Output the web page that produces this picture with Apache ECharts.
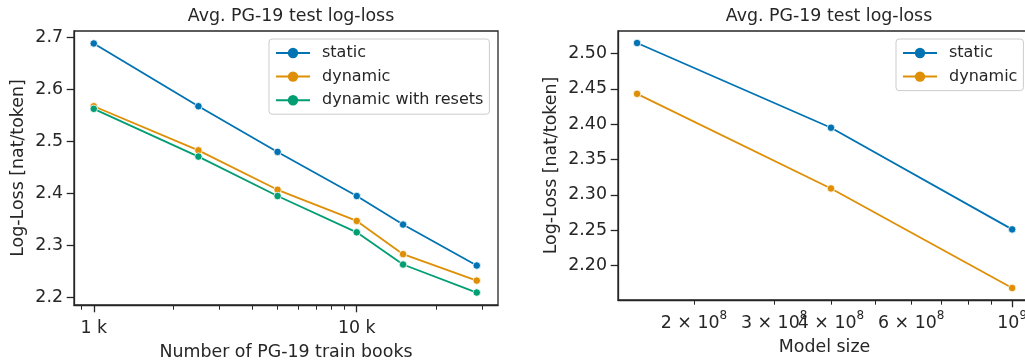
<!DOCTYPE html>
<html>
<head>
<meta charset="utf-8">
<script src="https://cdn.jsdelivr.net/npm/echarts@6/dist/echarts.min.js"></script>
<style>
html,body{margin:0;padding:0;background:#fff;}
#chart{width:1025px;height:360px;}
</style>
</head>
<body>
<div id="chart"></div>
<script>
// ---------- data ----------
const booksX = [1000, 2500, 5000, 10000, 15000, 28602];
const booksStatic = [2.689, 2.568, 2.480, 2.395, 2.340, 2.261];
const booksDynamic = [2.568, 2.483, 2.407, 2.347, 2.283, 2.232];
const booksResets = [2.563, 2.471, 2.395, 2.325, 2.263, 2.209];

const sizeX = [1.5e8, 4e8, 1e9];
const sizeStatic = [2.515, 2.395, 2.251];
const sizeDynamic = [2.443, 2.309, 2.168];

const leftYTicks = [2.2, 2.3, 2.4, 2.5, 2.6, 2.7];
const leftXMajor = [1000, 10000];
const leftXMinor = [900, 2000, 3000, 4000, 5000, 6000, 7000, 8000, 9000, 20000, 30000];
const rightYTicks = [2.20, 2.25, 2.30, 2.35, 2.40, 2.45, 2.50];
const rightXLabels = [2e8, 3e8, 4e8, 6e8, 1e9];
const rightXMajor = [1e9];
const rightXMinor = [2e8, 3e8, 4e8, 5e8, 6e8, 7e8, 8e8, 9e8];

const seriesNamesLeft = ['static', 'dynamic', 'dynamic with resets'];
const seriesNamesRight = ['static', 'dynamic'];
const colors = ['#0173b2', '#de8f05', '#029e73'];
const titleText = 'Avg. PG-19 test log-loss';

// ---------- styling ----------
const FONT = 'DejaVu Sans';
const TC = '#262626';
const FS = 17.4;

function zip(xs, ys) { return xs.map((x, i) => [x, ys[i]]); }

function lineSeries(name, xs, ys, color, xi, yi) {
  return {
    name: name, type: 'line', xAxisIndex: xi, yAxisIndex: yi,
    data: zip(xs, ys),
    symbol: 'circle', symbolSize: 7.5,
    lineStyle: { color: color, width: 1.8 },
    itemStyle: { color: color, borderColor: '#ffffff', borderWidth: 0.8 },
    emphasis: { disabled: true },
    animation: false, z: 3
  };
}

const axisLine = { show: true, lineStyle: { color: TC, width: 1.3 } };

function legendCfg(names, left) {
  return { data: names, orient: 'vertical', left: left, top: 39,
    backgroundColor: '#ffffff', borderColor: '#cccccc', borderWidth: 1, borderRadius: 3,
    padding: [6, 6, 6, 6], itemWidth: 34, itemHeight: 13, itemGap: 7.6,
    itemStyle: { borderWidth: 0 },
    textStyle: { fontFamily: FONT, fontSize: 16, color: TC, lineHeight: 16, padding: [0, 0, 0, 7] },
    selectedMode: false };
}

const option = {
  animation: false,
  textStyle: { fontFamily: FONT, color: TC },
  title: [
    { text: titleText, left: 286, top: 3, textAlign: 'center',
      textStyle: { fontFamily: FONT, fontWeight: 'normal', fontSize: FS, color: TC } },
    { text: titleText, left: 824, top: 3, textAlign: 'center',
      textStyle: { fontFamily: FONT, fontWeight: 'normal', fontSize: FS, color: TC } }
  ],
  grid: [
    { left: 74, right: 527, top: 31, bottom: 55, outerBoundsMode: 'none', containLabel: false,
      show: true, borderColor: TC, borderWidth: 1.3, backgroundColor: 'transparent' },
    { left: 618, right: -6, top: 31, bottom: 60, outerBoundsMode: 'none', containLabel: false,
      show: true, borderColor: TC, borderWidth: 1.3, backgroundColor: 'transparent' }
  ],
  legend: [ legendCfg(seriesNamesLeft, 269), legendCfg(seriesNamesRight, 896) ],
  xAxis: [
    { gridIndex: 0, type: 'log', min: 841, max: 34450, position: 'bottom',
      axisLine: axisLine,
      axisTick: { show: true, customValues: leftXMajor, length: 7.3, lineStyle: { color: TC, width: 1.3 } },
      axisLabel: { show: true, customValues: leftXMajor, margin: 15, fontSize: FS, color: TC, fontFamily: FONT,
        formatter: v => (v / 1000) + ' k' },
      splitLine: { show: false }, minorTick: { show: false },
      name: 'Number of PG-19 train books', nameLocation: 'middle', nameGap: 39,
      nameTextStyle: { fontSize: FS, color: TC, fontFamily: FONT } },
    { gridIndex: 0, type: 'log', min: 841, max: 34450, position: 'bottom',
      axisLine: { show: false },
      axisTick: { show: true, customValues: leftXMinor, length: 4.7, lineStyle: { color: TC, width: 1 } },
      axisLabel: { show: false }, splitLine: { show: false } },
    { gridIndex: 1, type: 'log', min: 1.362e8, max: 1.1e9, position: 'bottom',
      axisLine: axisLine,
      axisTick: { show: true, customValues: rightXMajor, length: 7.3, lineStyle: { color: TC, width: 1.3 } },
      axisLabel: { show: true, customValues: rightXLabels, margin: 10, color: TC, fontFamily: FONT,
        formatter: function (v) {
          const e = Math.floor(Math.log10(v) + 1e-9);
          const m = Math.round(v / Math.pow(10, e));
          if (m === 1) return '{b|10}{s|' + e + '}';
          return '{b|' + m + ' \u00d7 10}{s|' + e + '}';
        },
        rich: {
          b: { fontSize: FS, fontFamily: FONT, color: TC, verticalAlign: 'bottom', lineHeight: 22 },
          s: { fontSize: 12, fontFamily: FONT, color: TC, verticalAlign: 'top', lineHeight: 12 }
        } },
      splitLine: { show: false },
      name: 'Model size', nameLocation: 'middle', nameGap: 39,
      nameTextStyle: { fontSize: FS, color: TC, fontFamily: FONT } },
    { gridIndex: 1, type: 'log', min: 1.362e8, max: 1.1e9, position: 'bottom',
      axisLine: { show: false },
      axisTick: { show: true, customValues: rightXMinor, length: 4.7, lineStyle: { color: TC, width: 1 } },
      axisLabel: { show: false }, splitLine: { show: false } }
  ],
  yAxis: [
    { gridIndex: 0, type: 'value', min: 2.185, max: 2.713,
      axisLine: axisLine,
      axisTick: { show: true, customValues: leftYTicks, length: 7.3, lineStyle: { color: TC, width: 1.3 } },
      axisLabel: { show: true, customValues: leftYTicks, margin: 11, fontSize: FS, color: TC, fontFamily: FONT,
        formatter: v => v.toFixed(1) },
      splitLine: { show: false },
      name: 'Log-Loss [nat/token]', nameLocation: 'middle', nameGap: 47,
      nameTextStyle: { fontSize: FS, color: TC, fontFamily: FONT } },
    { gridIndex: 1, type: 'value', min: 2.151, max: 2.532,
      axisLine: axisLine,
      axisTick: { show: true, customValues: rightYTicks, length: 7.3, lineStyle: { color: TC, width: 1.3 } },
      axisLabel: { show: true, customValues: rightYTicks, margin: 11, fontSize: FS, color: TC, fontFamily: FONT,
        formatter: v => v.toFixed(2) },
      splitLine: { show: false },
      name: 'Log-Loss [nat/token]', nameLocation: 'middle', nameGap: 58,
      nameTextStyle: { fontSize: FS, color: TC, fontFamily: FONT } }
  ],
  series: [
    lineSeries(seriesNamesLeft[0], booksX, booksStatic, colors[0], 0, 0),
    lineSeries(seriesNamesLeft[1], booksX, booksDynamic, colors[1], 0, 0),
    lineSeries(seriesNamesLeft[2], booksX, booksResets, colors[2], 0, 0),
    lineSeries(seriesNamesRight[0], sizeX, sizeStatic, colors[0], 2, 1),
    lineSeries(seriesNamesRight[1], sizeX, sizeDynamic, colors[1], 2, 1)
  ]
};

const chart = echarts.init(document.getElementById('chart'), null, { renderer: 'canvas' });
chart.setOption(option);
</script>
</body>
</html>
